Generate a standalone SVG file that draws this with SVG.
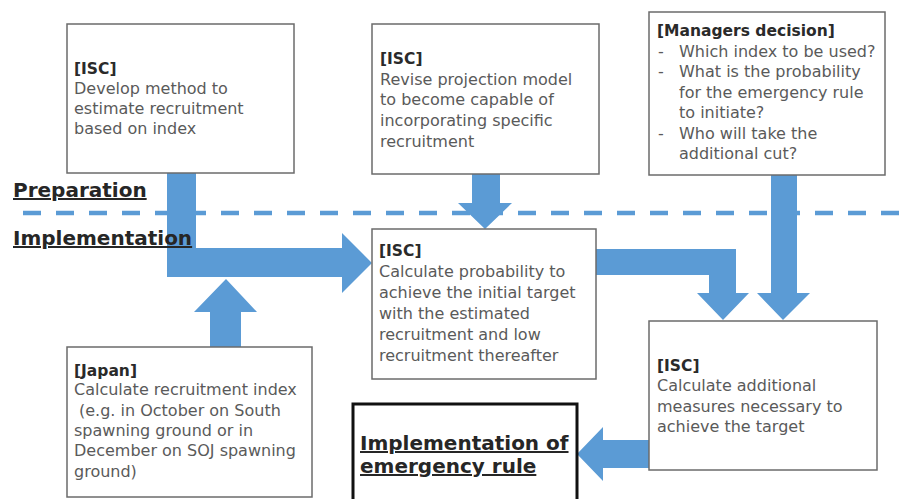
<svg xmlns="http://www.w3.org/2000/svg" width="906" height="499" viewBox="0 0 906 499">
<style>
text{font-family:"DejaVu Sans","Noto Sans",sans-serif;font-size:16px;fill:#5a5a5a}
.h{font-weight:bold;font-size:15.5px;fill:#2a2a2a}
.box{fill:#fff;stroke:#6b6b6b;stroke-width:1.5}
.arrow{fill:#5b9bd5}
.sec{font-weight:bold;font-size:20px;fill:#262626;text-decoration:underline}
.em{font-weight:bold;font-size:20px;fill:#262626;text-decoration:underline}
</style>
<rect width="906" height="499" fill="#fff"/>
<line x1="23" y1="213" x2="906" y2="213" stroke="#5b9bd5" stroke-width="4.5" stroke-dasharray="18 15"/>
<g id="connectors">
<polygon class="arrow" points="167,172 196,172 196,248 342,248 342,233 372,263 342,293 342,277 167,277"/>
<polygon class="arrow" points="210,347 210,312 194,312 226,279 257,312 241,312 241,347"/>
<polygon class="arrow" points="472,174 500,174 500,203 512,203 485,229 458,203 472,203"/>
<polygon class="arrow" points="596,249 736,249 736,293 749,293 723,320 697,293 709,293 709,275 596,275"/>
<polygon class="arrow" points="771,175 797,175 797,293 810,293 783,320 757,293 771,293"/>
<polygon class="arrow" points="649,440 603,440 603,427 577,454 603,481 603,468 649,468"/>
</g>
<g id="label-preparation"><text class="sec" x="13" y="197">Preparation</text></g>
<g id="label-implementation"><text class="sec" x="13" y="245">Implementation</text></g>
<g id="node-develop">
<rect class="box" x="67" y="24" width="227" height="149"/>
<text class="h" x="74" y="74">[ISC]</text>
<text x="74" y="94">Develop method to</text>
<text x="74" y="114">estimate recruitment</text>
<text x="74" y="134">based on index</text>
</g>
<g id="node-revise">
<rect class="box" x="372" y="24" width="227" height="150"/>
<text class="h" x="380" y="64">[ISC]</text>
<text x="380" y="84.5">Revise projection model</text>
<text x="380" y="105">to become capable of</text>
<text x="380" y="126">incorporating specific</text>
<text x="380" y="147">recruitment</text>
</g>
<g id="node-managers">
<rect class="box" x="649" y="12" width="236" height="163"/>
<text class="h" x="657" y="36">[Managers decision]</text>
<text x="658" y="57">-</text><text x="679" y="57">Which index to be used?</text>
<text x="658" y="77">-</text><text x="679" y="77">What is the probability</text>
<text x="679" y="98">for the emergency rule</text>
<text x="679" y="118">to initiate?</text>
<text x="658" y="139">-</text><text x="679" y="139">Who will take the</text>
<text x="679" y="159">additional cut?</text>
</g>
<g id="node-probability">
<rect class="box" x="372" y="229" width="224" height="150"/>
<text class="h" x="379" y="256">[ISC]</text>
<text x="379" y="277">Calculate probability to</text>
<text x="379" y="298">achieve the initial target</text>
<text x="379" y="319">with the estimated</text>
<text x="379" y="340">recruitment and low</text>
<text x="379" y="361">recruitment thereafter</text>
</g>
<g id="node-japan">
<rect class="box" x="67" y="347" width="245" height="150"/>
<text class="h" x="74" y="376">[Japan]</text>
<text x="74" y="395">Calculate recruitment index</text>
<text x="79" y="416">(e.g. in October on South</text>
<text x="74" y="436">spawning ground or in</text>
<text x="74" y="456">December on SOJ spawning</text>
<text x="74" y="477">ground)</text>
</g>
<g id="node-additional">
<rect class="box" x="649" y="321" width="228" height="149"/>
<text class="h" x="657" y="371">[ISC]</text>
<text x="657" y="391">Calculate additional</text>
<text x="657" y="412">measures necessary to</text>
<text x="657" y="432">achieve the target</text>
</g>
<g id="node-emergency">
<rect x="353" y="404" width="224" height="110" fill="#fff" stroke="#111" stroke-width="3"/>
<text class="em" x="360" y="450">Implementation of</text>
<text class="em" x="360" y="473">emergency rule</text>
</g>
</svg>
